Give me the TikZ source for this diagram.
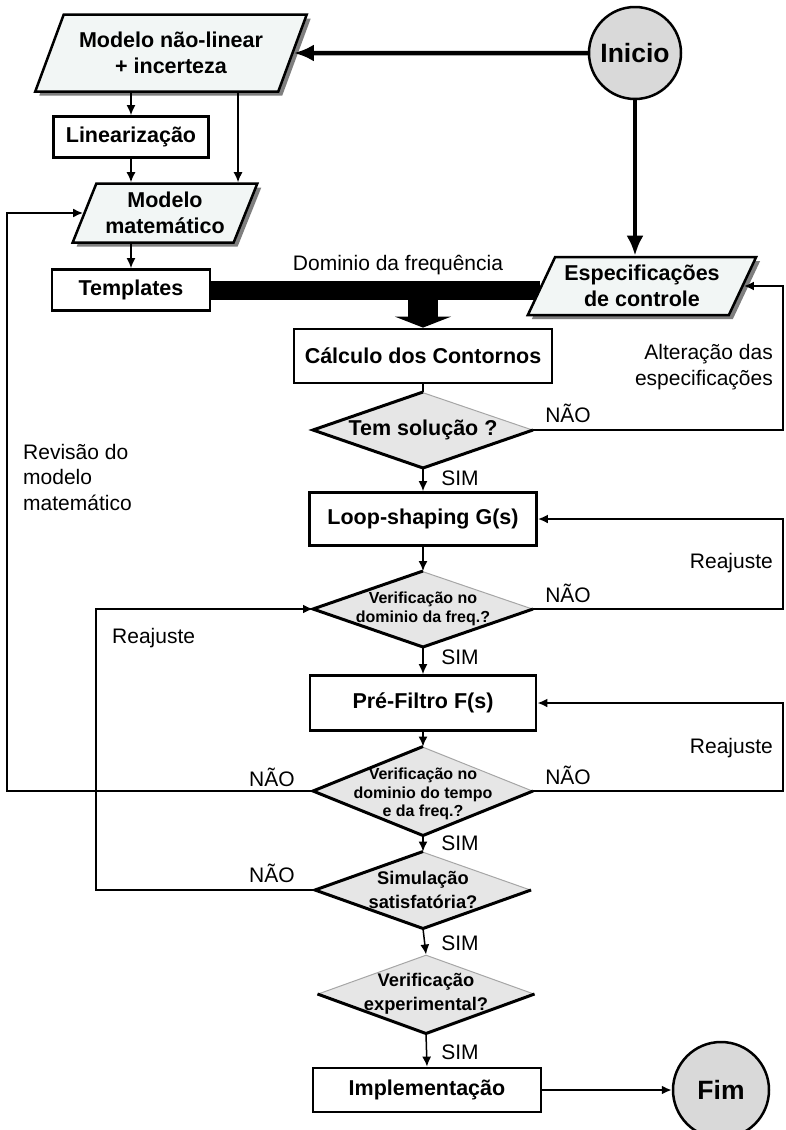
\documentclass[tikz,border=0pt]{standalone}
\usepackage{fontspec}
\setmainfont{Liberation Sans}
\usetikzlibrary{shapes.geometric,arrows.meta,shadows,backgrounds}

\definecolor{iofill}{HTML}{F2F6F5}
\definecolor{decfill}{HTML}{E6E6E6}
\definecolor{termfill}{HTML}{D9D9D9}
\definecolor{shadowgray}{HTML}{7F7F7F}

\newcommand{\boxfont}{\fontsize{21.5}{26.5}\selectfont\bfseries}
\newcommand{\decfont}{\fontsize{16}{18.5}\selectfont\bfseries}
\newcommand{\decbigfont}{\fontsize{18.3}{23.5}\selectfont\bfseries}
\newcommand{\termfont}{\fontsize{26.5}{30}\selectfont\bfseries}
\newcommand{\lblfont}{\fontsize{21}{25.5}\selectfont}

\tikzset{
  >={Latex[length=10pt,width=9pt]},
  procbox/.style={draw, line width=2.8pt, fill=white, font=\boxfont, inner sep=0pt},
  iobox/.style={trapezium, trapezium left angle=60, trapezium right angle=120,
    trapezium stretches=true, draw, line width=2.5pt, fill=iofill, font=\boxfont,
    align=center, inner sep=0pt,
    drop shadow={shadow xshift=4pt, shadow yshift=-4pt, fill=shadowgray, opacity=1}},
  decision/.style={diamond, draw=gray!70, line width=1pt, fill=decfill, inner sep=0pt},
  dedge/.style={line width=3pt, line join=miter},
  terminal/.style={circle, draw, line width=2.5pt, fill=termfill, font=\termfont, inner sep=0pt},
  flow/.style={->, line width=1.5pt},
  back/.style={->, line width=2.5pt},
  mainflow/.style={line width=4.5pt, -{Latex[length=20pt,width=17pt]}},
  lbl/.style={font=\lblfont, inner sep=0pt}
}

\begin{document}
\begin{tikzpicture}[x=1pt,y=-1pt]
\useasboundingbox (0,0) rectangle (785,1130);

% coluna de entrada
\node[terminal, minimum size=92pt] (inicio) at (635,53) {Inicio};
\node[iobox, minimum width=272pt, minimum height=77pt] (nlin) at (171,53) {Modelo não-linear\\+ incerteza};
\node[procbox, minimum width=155pt, minimum height=41pt] (lin) at (131,137) {Linearização};
\node[iobox, trapezium left angle=64, trapezium right angle=116,
  minimum width=185pt, minimum height=59pt] (modmat) at (165,213) {Modelo\\matemático};
\node[procbox, minimum width=158pt, minimum height=41pt] (templ) at (131,290) {Templates};
\node[iobox, minimum width=229pt, minimum height=58pt] (espec) at (642,286) {Especificações\\de controle};

% coluna principal
\node[procbox, minimum width=258pt, minimum height=54pt] (calc) at (423,356) {Cálculo dos Contornos};
\node[decision, minimum width=219pt, minimum height=75pt,
  label={[font=\boxfont]center:Tem solução ?}] (sol) at (423,430) {};
\node[procbox, minimum width=227pt, minimum height=53pt] (loop) at (423,519) {Loop-shaping G(s)};
\node[decision, minimum width=219pt, minimum height=75pt,
  label={[font=\decfont, align=center]center:Verificação no\\dominio da freq.?}] (vfreq) at (423,609) {};
\node[procbox, minimum width=226pt, minimum height=55pt] (pref) at (423,703) {Pré-Filtro F(s)};
\node[decision, minimum width=219pt, minimum height=88pt,
  label={[font=\decfont, align=center, yshift=-3pt]center:Verificação no\\dominio do tempo\\e da freq.?}] (vtempo) at (423,791) {};
\node[decision, minimum width=215pt, minimum height=76pt,
  label={[font=\decbigfont, align=center]center:Simulação\\satisfatória?}] (simul) at (423,890) {};
\node[decision, minimum width=216pt, minimum height=78pt,
  label={[font=\decbigfont, align=center]center:Verificação\\experimental?}] (vexp) at (426,994) {};
\node[procbox, minimum width=228pt, minimum height=44pt] (impl) at (427,1090) {Implementação};
\node[terminal, minimum size=96pt] (fim) at (721,1090) {Fim};

% textos
\node[lbl] (dom) at (398,265) {Dominio da frequência};
\node[lbl, anchor=east, align=right] (alt) at (773,367) {Alteração das\\especificações};
\node[lbl] (nao1) at (568,413) {NÃO};
\node[lbl] (sim1) at (460,478) {SIM};
\node[lbl, anchor=west, align=left] (rev) at (23,477) {Revisão do\\modelo\\matemático};
\node[lbl, anchor=east] (reaj1) at (773,563) {Reajuste};
\node[lbl] (nao2) at (568,593) {NÃO};
\node[lbl, anchor=west] (reaj2) at (112,638) {Reajuste};
\node[lbl] (sim2) at (460,657) {SIM};
\node[lbl, anchor=east] (reaj3) at (773,748) {Reajuste};
\node[lbl] (nao3) at (568,775) {NÃO};
\node[lbl] (nao4) at (272,777) {NÃO};
\node[lbl] (sim3) at (460,843) {SIM};
\node[lbl] (nao5) at (272,873) {NÃO};
\node[lbl] (sim4) at (460,943) {SIM};
\node[lbl] (sim5) at (460,1052) {SIM};

\coordinate (rr) at (783,0);
\coordinate (ll) at (7,0);
\coordinate (lm) at (96,0);
\coordinate (fork) at (calc.north |- templ.east);

% barra do dominio da frequencia
\begin{scope}[on background layer]
\draw[line width=19pt] (templ.east) -- (templ.east -| espec.west);
\end{scope}
\draw[line width=30pt, -{Triangle[length=11pt,width=56pt]}] (fork) -- (calc.north);

% ligacoes
\draw[mainflow] (inicio) -- (nlin);
\draw[mainflow] (inicio) -- (inicio |- espec.north);
\draw[flow] (lin.north |- nlin.south) -- (lin.north);
\draw[flow] ([xshift=67pt]nlin.south) -- ([xshift=67pt]nlin.south |- modmat.north);
\draw[flow] (lin.south) -- (lin.south |- modmat.north);
\draw[flow] (modmat.south -| templ.north) -- (templ.north);
\draw[line width=1.5pt] (calc.south) -- (sol.north);
\draw[flow] (sol.south) -- (loop.north);
\draw[flow] (loop.south) -- (vfreq.north);
\draw[flow] (vfreq.south) -- (pref.north);
\draw[flow] (pref.south) -- (vtempo.north);
\draw[flow] (vtempo.south) -- (simul.north);
\draw[flow] (simul.south) -- (vexp.north);
\draw[flow] (vexp.south) -- (impl.north);
\draw[back] (impl) -- (fim);

% realimentacoes
\draw[back] (sol.east) -- (sol.east -| rr) |- (espec.east);
\draw[back] (vfreq.east) -- (vfreq.east -| rr) |- (loop.east);
\draw[back] (vtempo.east) -- (vtempo.east -| rr) |- (pref.east);
\draw[back] (vtempo.west) -- (vtempo.west -| ll) |- (modmat.west);
\draw[back] (simul.west) -- (simul.west -| lm) |- (vfreq.west);

% bordas dos losangos
\foreach \d in {sol,vfreq,vtempo,simul}
  \draw[dedge] (\d.north) -- (\d.west) -- (\d.south) -- (\d.east);
\draw[dedge] (vexp.west) -- (vexp.south) -- (vexp.east);

\end{tikzpicture}
\end{document}
